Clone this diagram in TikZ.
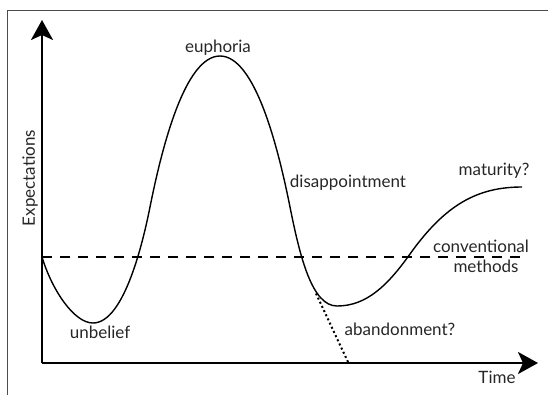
\documentclass[tikz,border=0pt]{standalone}
\usepackage{fontspec}
\setmainfont{Lato}
\usetikzlibrary{arrows.meta}
\begin{document}
\begin{tikzpicture}[x=1pt,y=-1pt,
  axisline/.style={line width=2.4pt,-{Stealth[length=20pt,width=22pt,inset=5pt]}},
  curveline/.style={line width=1.4pt,line join=round},
  refline/.style={line width=1.3pt,dash pattern=on 10pt off 8pt},
  dotline/.style={line width=2pt,dash pattern=on 2pt off 2.6pt},
  lbl/.style={font=\fontsize{17}{20}\selectfont,inner sep=0pt,anchor=base,text=black!85}]
\useasboundingbox (0,0) rectangle (548,394);
\draw[black!70,line width=0.9pt] (7,400) -- (7,10) -- (560,10);
% axes
\coordinate (O) at (42,363);
\coordinate (ytop) at (42,20);
\coordinate (xend) at (538,363);
\draw[axisline] (O) -- (ytop);
\draw[axisline] (O) -- (xend);
% reference
\coordinate (c0) at (42,257);
\coordinate (c1) at (521,257);
\draw[refline] (c0) -- (c1);
% curve
\coordinate (s0) at (42,257);
\coordinate (m1) at (93,323);
\coordinate (i1) at (150,207);
\coordinate (pk) at (220,56);
\coordinate (i2) at (290,207);
\coordinate (m2) at (337,306);
\coordinate (i3) at (410,254);
\coordinate (e) at (522,187);
\draw[curveline] (s0) .. controls (52,290) and (74,323) .. (m1)
  .. controls (125,323) and (144,237) .. (i1)
  .. controls (162,147) and (185,56) .. (pk)
  .. controls (255,56) and (278,147) .. (i2)
  .. controls (300,257) and (312,306) .. (m2)
  .. controls (367,306) and (388,284.8) .. (i3)
  .. controls (445,205) and (477,187) .. (e);
% dotted abandonment
\coordinate (a0) at (316,293.5);
\coordinate (a1) at (348,362);
\draw[dotline] (a0) -- (a1);
% labels
\node[lbl] (euph) at (218,52) {euphoria};
\node[lbl] (unb) at (100,338) {unbelief};
\node[lbl] (dis) at (348,187) {disappointment};
\node[lbl] (mat) at (494,175) {maturity?};
\node[lbl] (conv) at (481,252) {conventional};
\node[lbl] (meth) at (486,272) {methods};
\node[lbl] (aband) at (400,335) {abandonment?};
\node[lbl] (time) at (497,383) {Time};
\node[lbl,anchor=center,rotate=90] (exp) at (30,178) {Expectations};
\end{tikzpicture}
\end{document}
